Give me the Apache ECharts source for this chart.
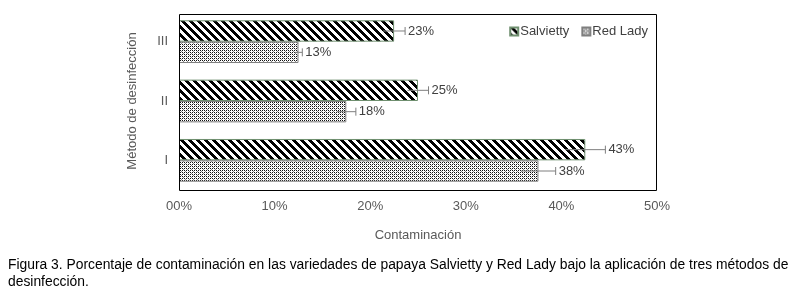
<!DOCTYPE html>
<html>
<head>
<meta charset="utf-8">
<script src="https://cdn.jsdelivr.net/npm/echarts@6/dist/echarts.min.js"></script>
<style>
  html, body { margin: 0; padding: 0; background: #fff; }
  #chart { width: 795px; height: 291px; }
</style>
</head>
<body>
<div id="chart"></div>
<script>
// datos
var metodos = ['I', 'II', 'III']
var salvietty = [42.5, 25.0, 22.5]
var salviettyErr = [2.1, 1.1, 1.15]
var salviettyLbl = ['43%', '25%', '23%']
var redLady = [37.6, 17.5, 12.5]
var redLadyErr = [1.8, 1.0, 0.4]
var redLadyLbl = ['38%', '18%', '13%']
var xTicks = ['00%', '10%', '20%', '30%', '40%', '50%']

// tramas tipo Excel
function stripeTile() {
  var c = document.createElement('canvas')
  c.width = 8
  c.height = 8
  var ctx = c.getContext('2d')
  ctx.fillStyle = '#fff'
  ctx.fillRect(0, 0, 8, 8)
  ctx.fillStyle = '#000'
  for (var y = 0; y < 8; y++) {
    for (var x = 0; x < 8; x++) {
      if (((x - y) % 8 + 8) % 8 < 4) ctx.fillRect(x, y, 1, 1)
    }
  }
  return c
}
function dotTile() {
  var c = document.createElement('canvas')
  c.width = 4
  c.height = 4
  var ctx = c.getContext('2d')
  ctx.fillStyle = '#fff'
  ctx.fillRect(0, 0, 4, 4)
  for (var y = 0; y < 4; y++) {
    for (var x = 0; x < 4; x++) {
      if (x % 2 === 0 && y % 2 === 0) {
        ctx.fillStyle = '#111'
        ctx.fillRect(x, y, 1, 1)
      } else if (x % 2 === 1 && y % 2 === 1 && (x + y) % 4 === 0) {
        ctx.fillStyle = '#888'
        ctx.fillRect(x, y, 1, 1)
      }
    }
  }
  return c
}
var stripes = { image: stripeTile(), repeat: 'repeat' }
var dots = { image: dotTile(), repeat: 'repeat' }

var GAP = 0.28

function errorSeries(name, vals, errs, lbls, side) {
  return {
    name: name + ' err',
    type: 'custom',
    z: 5,
    silent: true,
    data: vals.map(function (v, i) { return [v, i, errs[i]] }),
    renderItem: function (params, api) {
      var v = api.value(0)
      var idx = api.value(1)
      var e = api.value(2)
      var band = api.size([0, 1])[1]
      var off = band * (1 - GAP) / 4 * side
      var p0 = api.coord([v - e, idx])
      var p1 = api.coord([v + e, idx])
      var y = p0[1] + off
      var style = { stroke: '#7f7f7f', lineWidth: 1 }
      return {
        type: 'group',
        children: [
          { type: 'line', shape: { x1: p0[0], y1: y, x2: p1[0], y2: y }, style: style },
          { type: 'line', shape: { x1: p1[0], y1: y - 4, x2: p1[0], y2: y + 4 }, style: style },
          {
            type: 'text',
            x: p1[0] + 3,
            y: y,
            style: {
              text: lbls[idx],
              fill: '#404040',
              font: '13px "Liberation Sans", Arial, sans-serif',
              verticalAlign: 'middle',
              align: 'left'
            }
          }
        ]
      }
    }
  }
}

var chart = echarts.init(document.getElementById('chart'))
chart.setOption({
  animation: false,
  textStyle: { fontFamily: '"Liberation Sans", Arial, sans-serif' },
  grid: { left: 179, right: 138, top: 12, bottom: 101 },
  legend: {
    data: ['Salvietty', 'Red Lady'],
    right: 142,
    top: 20,
    itemWidth: 8,
    itemHeight: 8,
    itemGap: 12,
    textStyle: { color: '#404040', fontSize: 13, padding: [0, 0, 0, -3] },
    icon: 'rect'
  },
  xAxis: {
    type: 'value',
    min: 0,
    max: 50,
    interval: 10,
    name: 'Contaminación',
    nameLocation: 'middle',
    nameGap: 39,
    nameTextStyle: { color: '#595959', fontSize: 13 },
    axisLine: { show: false },
    axisTick: { show: false },
    splitLine: { show: false },
    axisLabel: {
      color: '#595959',
      fontSize: 13,
      margin: 10,
      formatter: function (v) { return xTicks[Math.round(v / 10)] }
    }
  },
  yAxis: {
    type: 'category',
    data: metodos,
    name: 'Método de desinfección',
    nameLocation: 'middle',
    nameRotate: 90,
    nameGap: 40,
    nameTextStyle: { color: '#595959', fontSize: 13 },
    axisLine: { show: false },
    axisTick: { show: false },
    axisLabel: { color: '#595959', fontSize: 13, margin: 11 }
  },
  series: [
    {
      name: 'Salvietty',
      type: 'bar',
      data: salvietty,
      barGap: '0%',
      barCategoryGap: (GAP * 100) + '%',
      itemStyle: { color: stripes, borderColor: '#6f8f6f', borderWidth: 1 }
    },
    {
      name: 'Red Lady',
      type: 'bar',
      data: redLady,
      barGap: '0%',
      barCategoryGap: (GAP * 100) + '%',
      itemStyle: { color: dots, borderColor: '#7f7f7f', borderWidth: 1 }
    },
    errorSeries('Salvietty', salvietty, salviettyErr, salviettyLbl, -1),
    errorSeries('Red Lady', redLady, redLadyErr, redLadyLbl, 1)
  ],
  graphic: [
    // marco del área de trazado
    {
      type: 'rect',
      z: 10,
      silent: true,
      shape: { x: 179.5, y: 14.5, width: 477, height: 176 },
      style: { fill: null, stroke: '#000', lineWidth: 1 }
    },
    {
      type: 'text',
      left: 8,
      top: 257,
      style: {
        text: 'Figura 3. Porcentaje de contaminación en las variedades de papaya Salvietty y Red Lady bajo la aplicación de tres métodos de\ndesinfección.',
        fill: '#000',
        font: '13.85px "Liberation Sans", Arial, sans-serif',
        lineHeight: 17
      }
    }
  ]
})
</script>
</body>
</html>
